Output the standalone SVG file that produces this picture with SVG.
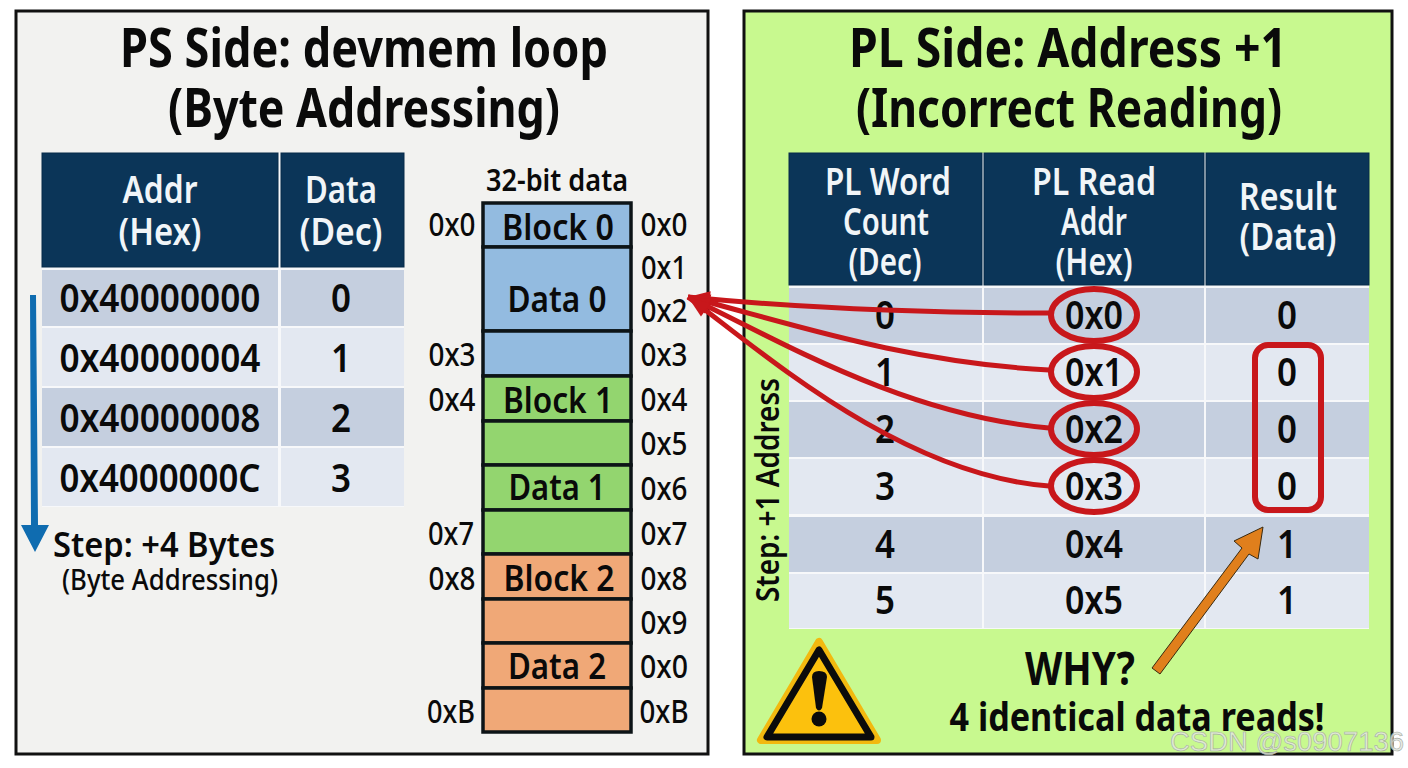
<svg xmlns="http://www.w3.org/2000/svg" width="1408" height="768" viewBox="0 0 1408 768">
<style>
text{font-family:"Noto Sans","Open Sans","Liberation Sans",sans-serif;font-weight:600;fill:#0a0a0a;text-anchor:middle}
.title{font-size:54px;font-weight:700}
.hd{font-size:38px;fill:#f1f5f8;font-weight:600}
.cell{font-size:39px;font-weight:600}
.ad{font-size:33px;font-weight:500}
.blk{font-size:36px;font-weight:600}
.panel{stroke:#111;stroke-width:3}
.head{fill:#0b3558;stroke:#072a49;stroke-width:1}
.dk{fill:#c5cfdf}
.lt{fill:#e3e8f1}
.mem{stroke:#0d1417;stroke-width:3.5}
.b{fill:#93bbe0}.g{fill:#93d56f}.o{fill:#f0a877}
.red{fill:none;stroke:#c8171b;stroke-width:5}
.ring{fill:none;stroke:#c8171b;stroke-width:6}
</style>
<defs>
<marker id="redHead" markerUnits="userSpaceOnUse" markerWidth="24" markerHeight="20" refX="0" refY="10" orient="auto" viewBox="0 0 24 20"><path d="M0 10L22 2L22 18Z" fill="#c8171b"/></marker>
</defs>
<rect width="1408" height="768" fill="#fff"/>
<g id="ps-panel">
<rect class="panel" x="16" y="11" width="692" height="743" fill="#f2f2f0"/>
<text class="title" x="364" y="67" textLength="488" lengthAdjust="spacingAndGlyphs">PS Side: devmem loop</text>
<text class="title" x="364" y="127" textLength="392" lengthAdjust="spacingAndGlyphs">(Byte Addressing)</text>
</g>
<g id="ps-table">
<rect x="42" y="153" width="362" height="354" fill="#f7f8fa"/>
<rect class="head" x="42" y="153" width="236" height="114"/>
<rect class="head" x="281" y="153" width="123" height="114"/>
<text class="hd" x="160" y="203" textLength="75" lengthAdjust="spacingAndGlyphs">Addr</text>
<text class="hd" x="160" y="245" textLength="83" lengthAdjust="spacingAndGlyphs">(Hex)</text>
<text class="hd" x="341" y="203" textLength="72" lengthAdjust="spacingAndGlyphs">Data</text>
<text class="hd" x="341" y="245" textLength="83" lengthAdjust="spacingAndGlyphs">(Dec)</text>
<rect class="dk" x="42" y="270" width="236" height="56"/><rect class="dk" x="281" y="270" width="123" height="56"/>
<rect class="lt" x="42" y="328" width="236" height="58"/><rect class="lt" x="281" y="328" width="123" height="58"/>
<rect class="dk" x="42" y="388" width="236" height="58"/><rect class="dk" x="281" y="388" width="123" height="58"/>
<rect class="lt" x="42" y="448" width="236" height="58"/><rect class="lt" x="281" y="448" width="123" height="58"/>
<text class="cell" x="160" y="312" textLength="201" lengthAdjust="spacingAndGlyphs">0x40000000</text><text class="cell" x="341" y="312" textLength="20" lengthAdjust="spacingAndGlyphs">0</text>
<text class="cell" x="160" y="372" textLength="201" lengthAdjust="spacingAndGlyphs">0x40000004</text><text class="cell" x="341" y="372" textLength="20" lengthAdjust="spacingAndGlyphs">1</text>
<text class="cell" x="160" y="432" textLength="201" lengthAdjust="spacingAndGlyphs">0x40000008</text><text class="cell" x="341" y="432" textLength="20" lengthAdjust="spacingAndGlyphs">2</text>
<text class="cell" x="160" y="492" textLength="201" lengthAdjust="spacingAndGlyphs">0x4000000C</text><text class="cell" x="341" y="492" textLength="20" lengthAdjust="spacingAndGlyphs">3</text>
</g>
<g id="ps-step">
<text x="164" y="557" font-size="35" textLength="222" lengthAdjust="spacingAndGlyphs">Step: +4 Bytes</text>
<text x="170" y="590" font-size="28" style="font-weight:500" textLength="216" lengthAdjust="spacingAndGlyphs">(Byte Addressing)</text>
</g>
<g id="memory">
<text x="557" y="191" font-size="30" textLength="142" lengthAdjust="spacingAndGlyphs">32-bit data</text>
<rect class="mem b" x="483" y="203" width="148" height="44"/>
<rect class="mem b" x="483" y="247" width="148" height="84"/>
<rect class="mem b" x="483" y="331" width="148" height="45"/>
<rect class="mem g" x="483" y="376" width="148" height="45"/>
<rect class="mem g" x="483" y="421" width="148" height="44"/>
<rect class="mem g" x="483" y="465" width="148" height="45"/>
<rect class="mem g" x="483" y="510" width="148" height="44"/>
<rect class="mem o" x="483" y="554" width="148" height="45"/>
<rect class="mem o" x="483" y="599" width="148" height="44"/>
<rect class="mem o" x="483" y="643" width="148" height="45"/>
<rect class="mem o" x="483" y="688" width="148" height="44"/>
<text class="blk" x="558" y="240" textLength="112" lengthAdjust="spacingAndGlyphs">Block 0</text>
<text class="blk" x="557" y="312" textLength="99" lengthAdjust="spacingAndGlyphs">Data 0</text>
<text class="blk" x="558" y="413" textLength="110" lengthAdjust="spacingAndGlyphs">Block 1</text>
<text class="blk" x="557" y="500" textLength="97" lengthAdjust="spacingAndGlyphs">Data 1</text>
<text class="blk" x="559" y="591" textLength="111" lengthAdjust="spacingAndGlyphs">Block 2</text>
<text class="blk" x="557" y="679" textLength="98" lengthAdjust="spacingAndGlyphs">Data 2</text>
<g class="addr">
<text class="ad" x="452" y="236" textLength="47" lengthAdjust="spacingAndGlyphs">0x0</text>
<text class="ad" x="452" y="366" textLength="47" lengthAdjust="spacingAndGlyphs">0x3</text>
<text class="ad" x="452" y="411" textLength="47" lengthAdjust="spacingAndGlyphs">0x4</text>
<text class="ad" x="451" y="545" textLength="46" lengthAdjust="spacingAndGlyphs">0x7</text>
<text class="ad" x="452" y="590" textLength="47" lengthAdjust="spacingAndGlyphs">0x8</text>
<text class="ad" x="451" y="723" textLength="48" lengthAdjust="spacingAndGlyphs">0xB</text>
<text class="ad" x="664" y="236" textLength="47" lengthAdjust="spacingAndGlyphs">0x0</text>
<text class="ad" x="664" y="279" textLength="46" lengthAdjust="spacingAndGlyphs">0x1</text>
<text class="ad" x="664" y="322" textLength="47" lengthAdjust="spacingAndGlyphs">0x2</text>
<text class="ad" x="664" y="366" textLength="47" lengthAdjust="spacingAndGlyphs">0x3</text>
<text class="ad" x="664" y="411" textLength="47" lengthAdjust="spacingAndGlyphs">0x4</text>
<text class="ad" x="664" y="455" textLength="47" lengthAdjust="spacingAndGlyphs">0x5</text>
<text class="ad" x="664" y="500" textLength="47" lengthAdjust="spacingAndGlyphs">0x6</text>
<text class="ad" x="664" y="545" textLength="47" lengthAdjust="spacingAndGlyphs">0x7</text>
<text class="ad" x="664" y="590" textLength="47" lengthAdjust="spacingAndGlyphs">0x8</text>
<text class="ad" x="664" y="634" textLength="47" lengthAdjust="spacingAndGlyphs">0x9</text>
<text class="ad" x="664" y="678" textLength="48" lengthAdjust="spacingAndGlyphs">0x0</text>
<text class="ad" x="664" y="723" textLength="49" lengthAdjust="spacingAndGlyphs">0xB</text>
</g>
</g>
<g id="pl-panel">
<rect class="panel" x="744" y="11" width="648" height="743" fill="#c8f98f"/>
<text class="title" x="1068" y="67" textLength="438" lengthAdjust="spacingAndGlyphs">PL Side: Address +1</text>
<text class="title" x="1069" y="127" textLength="426" lengthAdjust="spacingAndGlyphs">(Incorrect Reading)</text>
</g>
<g id="pl-table">
<rect x="789" y="153" width="580" height="476" fill="#f7f8fa"/>
<rect class="head" x="789" y="153" width="193" height="132"/>
<rect class="head" x="984" y="153" width="220" height="132"/>
<rect class="head" x="1206" y="153" width="163" height="132"/>
<text class="hd" x="888" y="195" textLength="126" lengthAdjust="spacingAndGlyphs">PL Word</text>
<text class="hd" x="886" y="235" textLength="86" lengthAdjust="spacingAndGlyphs">Count</text>
<text class="hd" x="885" y="275" textLength="73" lengthAdjust="spacingAndGlyphs">(Dec)</text>
<text class="hd" x="1094" y="195" textLength="124" lengthAdjust="spacingAndGlyphs">PL Read</text>
<text class="hd" x="1094" y="235" textLength="66" lengthAdjust="spacingAndGlyphs">Addr</text>
<text class="hd" x="1094" y="275" textLength="77" lengthAdjust="spacingAndGlyphs">(Hex)</text>
<text class="hd" x="1288" y="210" textLength="98" lengthAdjust="spacingAndGlyphs">Result</text>
<text class="hd" x="1288" y="250" textLength="97" lengthAdjust="spacingAndGlyphs">(Data)</text>
<rect class="dk" x="789" y="288" width="193" height="55"/><rect class="dk" x="984" y="288" width="220" height="55"/><rect class="dk" x="1206" y="288" width="163" height="55"/>
<rect class="lt" x="789" y="345" width="193" height="55"/><rect class="lt" x="984" y="345" width="220" height="55"/><rect class="lt" x="1206" y="345" width="163" height="55"/>
<rect class="dk" x="789" y="402" width="193" height="55"/><rect class="dk" x="984" y="402" width="220" height="55"/><rect class="dk" x="1206" y="402" width="163" height="55"/>
<rect class="lt" x="789" y="459" width="193" height="55"/><rect class="lt" x="984" y="459" width="220" height="55"/><rect class="lt" x="1206" y="459" width="163" height="55"/>
<rect class="dk" x="789" y="517" width="193" height="55"/><rect class="dk" x="984" y="517" width="220" height="55"/><rect class="dk" x="1206" y="517" width="163" height="55"/>
<rect class="lt" x="789" y="574" width="193" height="54"/><rect class="lt" x="984" y="574" width="220" height="54"/><rect class="lt" x="1206" y="574" width="163" height="54"/>
<text class="cell" x="885" y="329" textLength="20" lengthAdjust="spacingAndGlyphs">0</text><text class="cell" x="1094" y="329" textLength="58" lengthAdjust="spacingAndGlyphs">0x0</text><text class="cell" x="1287" y="329" textLength="20" lengthAdjust="spacingAndGlyphs">0</text>
<text class="cell" x="885" y="386" textLength="20" lengthAdjust="spacingAndGlyphs">1</text><text class="cell" x="1094" y="386" textLength="58" lengthAdjust="spacingAndGlyphs">0x1</text><text class="cell" x="1287" y="386" textLength="20" lengthAdjust="spacingAndGlyphs">0</text>
<text class="cell" x="885" y="443" textLength="20" lengthAdjust="spacingAndGlyphs">2</text><text class="cell" x="1094" y="443" textLength="58" lengthAdjust="spacingAndGlyphs">0x2</text><text class="cell" x="1287" y="443" textLength="20" lengthAdjust="spacingAndGlyphs">0</text>
<text class="cell" x="885" y="500" textLength="20" lengthAdjust="spacingAndGlyphs">3</text><text class="cell" x="1094" y="500" textLength="58" lengthAdjust="spacingAndGlyphs">0x3</text><text class="cell" x="1287" y="500" textLength="20" lengthAdjust="spacingAndGlyphs">0</text>
<text class="cell" x="885" y="558" textLength="20" lengthAdjust="spacingAndGlyphs">4</text><text class="cell" x="1094" y="558" textLength="58" lengthAdjust="spacingAndGlyphs">0x4</text><text class="cell" x="1287" y="558" textLength="20" lengthAdjust="spacingAndGlyphs">1</text>
<text class="cell" x="885" y="614" textLength="20" lengthAdjust="spacingAndGlyphs">5</text><text class="cell" x="1094" y="614" textLength="58" lengthAdjust="spacingAndGlyphs">0x5</text><text class="cell" x="1287" y="614" textLength="20" lengthAdjust="spacingAndGlyphs">1</text>
</g>
<g id="pl-step">
<text transform="translate(779 490) rotate(-90)" font-size="33" textLength="224" lengthAdjust="spacingAndGlyphs">Step: +1 Address</text>
</g>
<g id="connectors">
<path class="red" marker-start="url(#redHead)" d="M688 297C800 308 920 313 1049 313"/>
<path class="red" marker-start="url(#redHead)" d="M688 297C780 320 900 362 1049 370"/>
<path class="red" marker-start="url(#redHead)" d="M688 297C770 335 900 415 1049 428"/>
<path class="red" marker-start="url(#redHead)" d="M688 297C760 350 900 475 1049 486"/>
<path fill="#0f6cb0" d="M30 295H36L38 525H49L35 552L21 525H31Z"/>
<path fill="#e07f1c" stroke="#3a2a10" stroke-width="1" d="M1152 668L1242 548L1234 541L1263 527L1258 559L1249 554L1160 674Z"/>
</g>
<g id="highlights">
<ellipse class="ring" cx="1094" cy="315" rx="43" ry="26"/>
<ellipse class="ring" cx="1094" cy="372" rx="43" ry="26"/>
<ellipse class="ring" cx="1094" cy="429" rx="43" ry="26"/>
<ellipse class="ring" cx="1094" cy="486" rx="43" ry="26"/>
<rect class="ring" x="1255" y="345" width="66" height="165" rx="13"/>
</g>
<g id="warning">
<path d="M819 642L761 740H877Z" fill="#f2b90f" stroke="#f2b90f" stroke-width="8" stroke-linejoin="round"/>
<path d="M819 650L767 737H871Z" fill="#fcc10d" stroke="#0b0b0b" stroke-width="7" stroke-linejoin="round"/>
<path d="M812 677Q812 671 819 671Q827 671 827 677L822 708Q819 713 816 708Z" fill="#0b0b0b"/>
<circle cx="819" cy="719" r="7.5" fill="#0b0b0b"/>
</g>
<g id="why">
<text x="1080" y="685" font-size="46" style="font-weight:700" textLength="110" lengthAdjust="spacingAndGlyphs">WHY?</text>
<text x="1137" y="731" font-size="39" style="font-weight:700" textLength="375" lengthAdjust="spacingAndGlyphs">4 identical data reads!</text>
</g>
<text id="watermark" x="1287" y="751" font-size="27" style="font-family:'Liberation Sans',sans-serif;font-weight:400;fill:#e4e8df;fill-opacity:.85;stroke:#a6aca4;stroke-width:.6" textLength="234" lengthAdjust="spacingAndGlyphs">CSDN @s0907136</text>
</svg>
